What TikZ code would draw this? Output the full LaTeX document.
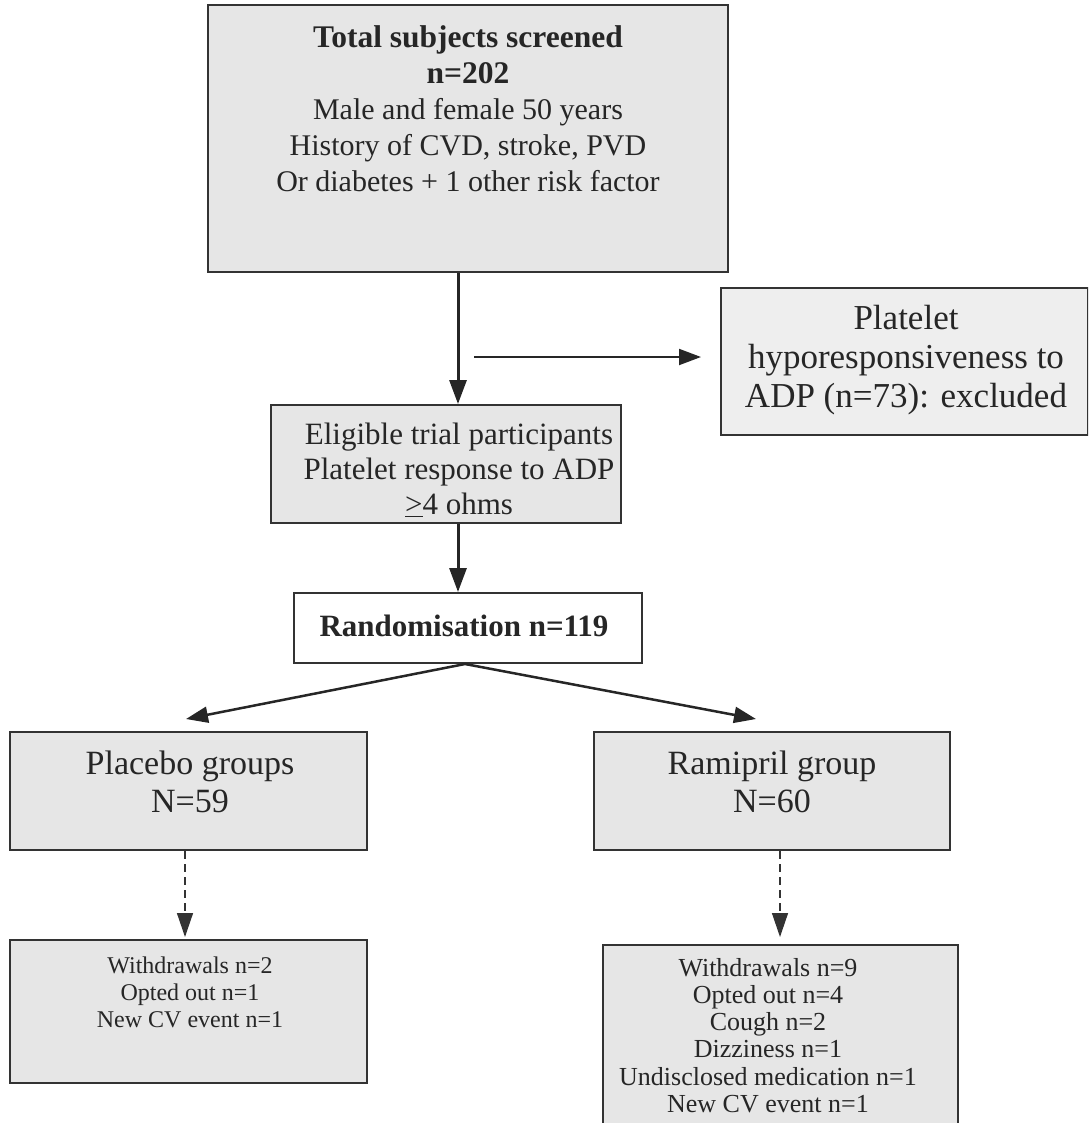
\documentclass[tikz,border=0pt]{standalone}
\usepackage{fontspec}
\setmainfont{Liberation Serif}
\usetikzlibrary{arrows.meta}
\definecolor{boxgray}{HTML}{E6E6E6}
\definecolor{lightgray2}{HTML}{EEEEEE}
\definecolor{edge}{HTML}{333333}
\begin{document}
\begin{tikzpicture}[x=1pt,y=-1pt,
  box/.style={draw=edge, line width=2pt, fill=boxgray, rectangle, inner sep=0pt},
  txt/.style={align=center, inner sep=0pt, text=black!85},
  thickarrow/.style={draw=black!85, line width=3pt, -{Triangle[width=17pt,length=24pt]}},
  thinarrow/.style={draw=black!85, line width=2pt, -{Triangle[width=16pt,length=22pt]}},
  dasharrow/.style={draw=black!80, line width=1.4pt, dash pattern=on 8pt off 5pt, -{Triangle[width=16pt,length=24pt]}}
]
\useasboundingbox (0,0) rectangle (1088,1123);
\clip (0,0) rectangle (1088,1123);

% boxes
\node[box, minimum width=520pt, minimum height=267pt] (top) at (468,138.5) {};
\node[txt, anchor=north, font=\fontsize{30}{36}\selectfont] (toptxt) at (468,25)
  {{\fontsize{31.5}{36}\selectfont\bfseries Total subjects screened}\\ {\fontsize{31.5}{36}\selectfont\bfseries n=202}\\ Male and female 50 years\\ History of CVD, stroke, PVD\\ Or diabetes + 1 other risk factor};

\node[box, fill=lightgray2, minimum width=367pt, minimum height=147pt] (excl) at (904.5,361.5)
  {};
\node[txt, font=\fontsize{35}{39}\selectfont] (excltxt) at (906,360)
  {Platelet\\ hyporesponsiveness to\\ ADP (n=73): excluded};

\node[box, minimum width=350pt, minimum height=118pt] (elig) at (446,464) {};
\node[txt, font=\fontsize{31}{35}\selectfont] (eligtxt) at (459,470)
  {Eligible trial participants\\ Platelet response to ADP\\ $\underline{\smash{\mbox{>}}}$4 ohms};

\node[box, fill=white, minimum width=348pt, minimum height=70pt] (rand) at (468,628)
  {};
\node[txt, font=\fontsize{31}{34}\bfseries\selectfont] (randtxt) at (464,626) {Randomisation n=119};

\node[box, minimum width=357pt, minimum height=118pt] (plac) at (188.5,791) {};
\node[txt, font=\fontsize{34}{38}\selectfont] (plactxt) at (190,782) {Placebo groups\\ N=59};

\node[box, minimum width=356pt, minimum height=118pt] (rami) at (772,791) {};
\node[txt, font=\fontsize{34}{38}\selectfont] (ramitxt) at (772,782) {Ramipril group\\ N=60};

\node[box, minimum width=357pt, minimum height=143pt] (placout) at (188.5,1011.5) {};
\node[txt, anchor=north, font=\fontsize{24}{27}\selectfont] (placouttxt) at (190,957)
  {Withdrawals n=2\\ Opted out n=1\\ New CV event n=1};

\node[box, minimum width=355pt, minimum height=200pt] (ramiout) at (780.5,1045) {};
\node[txt, anchor=north, font=\fontsize{26}{27.2}\selectfont] (ramiouttxt) at (768,958)
  {Withdrawals n=9\\ Opted out n=4\\ Cough n=2\\ Dizziness n=1\\ Undisclosed medication n=1\\ New CV event n=1};

% connectors
\coordinate (hstart) at (474,357);
\coordinate (hend) at (701,357);
\coordinate (lend) at (186,719);
\coordinate (rend) at (756,719);
\coordinate (pend) at (185,937);
\coordinate (qend) at (780,937);

\draw[thickarrow] (top.south -| 458,0) -- (elig.north -| 458,0);
\draw[thinarrow] (hstart) -- (hend);
\draw[thickarrow] (elig.south -| 458,0) -- (rand.north -| 458,0);
\draw[thinarrow, line width=2.5pt] (rand.south -| 465,0) -- (lend);
\draw[thinarrow, line width=2.5pt] (rand.south -| 465,0) -- (rend);
\draw[dasharrow] (plac.south -| 185,0) -- (pend);
\draw[dasharrow] (rami.south -| 780,0) -- (qend);
\end{tikzpicture}
\end{document}
